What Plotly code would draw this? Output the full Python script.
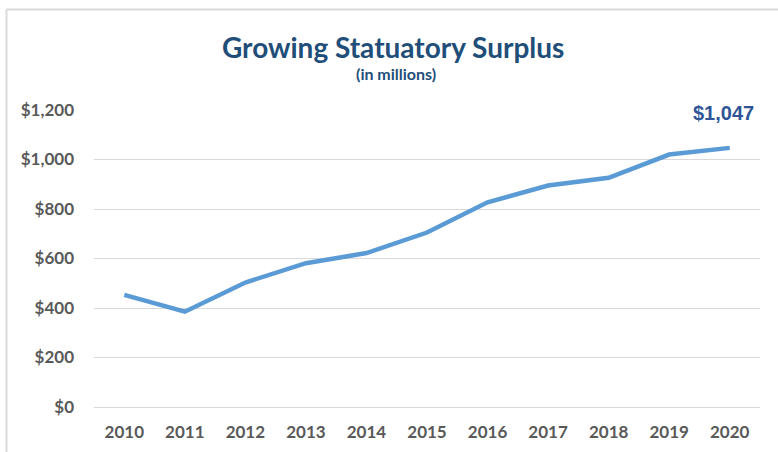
import plotly.graph_objects as go

years = [2010, 2011, 2012, 2013, 2014, 2015, 2016, 2017, 2018, 2019, 2020]
surplus = [453, 385, 503, 581, 622, 705, 827, 895, 926, 1020, 1047]
y_ticks = [0, 200, 400, 600, 800, 1000, 1200]
y_tick_labels = ["$0", "$200", "$400", "$600", "$800", "$1,000", "$1,200"]
title_text = "Growing Statuatory Surplus"
subtitle_text = "(in millions)"
last_label = "$1,047"

fig = go.Figure()
fig.add_trace(go.Scatter(
    x=years, y=surplus, mode="lines",
    line=dict(color="#5B9BD5", width=4.5),
    hoverinfo="x+y",
))

fig.update_layout(
    width=778, height=452,
    margin=dict(l=94, r=18, t=110, b=45, autoexpand=False),
    paper_bgcolor="white", plot_bgcolor="white",
    showlegend=False,
    font=dict(family="Lato, sans-serif"),
    xaxis=dict(range=[years[0] - 0.5, years[-1] + 0.5], tickvals=years,
               ticktext=[str(y) for y in years],
               showgrid=False, showline=False, zeroline=False, automargin=False,
               tickfont=dict(size=17, color="#595959", family="Lato, sans-serif", weight="bold"),
               ticks="", ticklabelstandoff=13),
    yaxis=dict(range=[0, 1200], tickvals=y_ticks, ticktext=y_tick_labels,
               showgrid=True, gridcolor="#D9D9D9", gridwidth=1.3,
               zeroline=True, zerolinecolor="#D9D9D9", zerolinewidth=1.3,
               showline=False, ticks="", automargin=False,
               tickfont=dict(size=17, color="#595959", family="Lato, sans-serif", weight="bold"),
               ticklabelstandoff=19),
)

# chart title and subtitle
fig.add_annotation(xref="paper", yref="paper", x=(393 - 94) / 666, y=(407 - 47) / 297,
                   text="<b>" + title_text + "</b>", showarrow=False,
                   font=dict(size=28, color="#1F4E79", family="Lato, sans-serif"),
                   xanchor="center", yanchor="middle")
fig.add_annotation(xref="paper", yref="paper", x=(396 - 94) / 666, y=(407 - 73) / 297,
                   text="<b>" + subtitle_text + "</b>", showarrow=False,
                   font=dict(size=16, color="#1F4E79", family="Lato, sans-serif"),
                   xanchor="center", yanchor="middle")

# label at last point
fig.add_annotation(x=years[-1], y=surplus[-1], text="<b>" + last_label + "</b>",
                   showarrow=False, xanchor="center", yanchor="bottom", yshift=22, xshift=-6,
                   font=dict(size=20, color="#2F5597", family="Arial, Liberation Sans, sans-serif"))

# outer frame lines (top and left)
fig.add_shape(type="line", xref="paper", yref="paper",
              x0=(6.5 - 94) / 666, x1=(778 - 94) / 666,
              y0=(407 - 9.5) / 297, y1=(407 - 9.5) / 297,
              line=dict(color="#D9D9D9", width=2))
fig.add_shape(type="line", xref="paper", yref="paper",
              x0=(6.5 - 94) / 666, x1=(6.5 - 94) / 666,
              y0=(407 - 9.5) / 297, y1=(407 - 452) / 297,
              line=dict(color="#D9D9D9", width=2))

fig.write_html("out.html", config={"displayModeBar": False},
               post_script="document.body.style.margin='0';document.body.style.padding='0';")
